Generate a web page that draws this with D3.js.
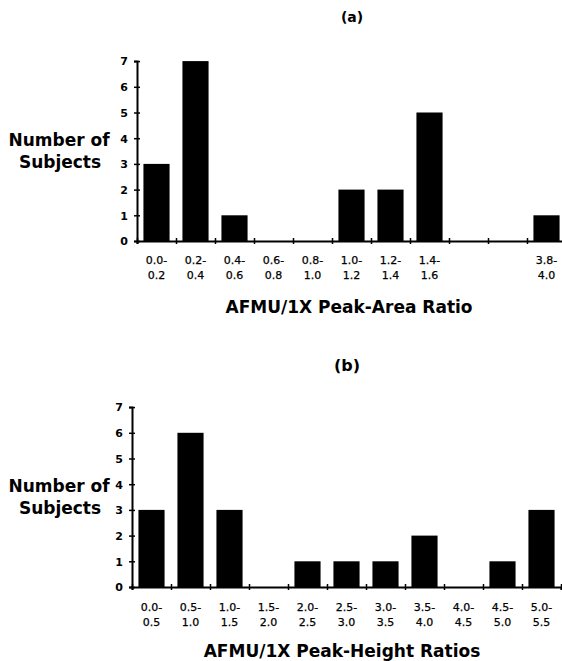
<!DOCTYPE html>
<html>
<head>
<meta charset="utf-8">
<script src="https://cdn.jsdelivr.net/npm/d3@7"></script>
<style>
  body { margin: 0; background: #fff; }
  svg { display: block; }
  .tick-lab { font-family: "DejaVu Sans", sans-serif; font-size: 11px; fill: #000; stroke: #000; stroke-width: 0.25px; }
  .ylab { font-family: "DejaVu Sans", sans-serif; font-weight: bold; font-size: 11px; fill: #000; }
  .title { font-family: "DejaVu Sans", sans-serif; font-weight: bold; font-size: 17px; fill: #000; }
</style>
</head>
<body>
<div id="chart"></div>
<script>
// y scale ticks shared by both panels
const yTicks = [0, 1, 2, 3, 4, 5, 6, 7];

// (a) peak-area ratio bins; two unlabeled slots before 3.8-4.0
const areaBins = ["0.0-0.2", "0.2-0.4", "0.4-0.6", "0.6-0.8", "0.8-1.0", "1.0-1.2",
  "1.2-1.4", "1.4-1.6", "", "", "3.8-4.0"];
const areaCounts = [3, 7, 1, 0, 0, 2, 2, 5, null, null, 1];

// (b) peak-height ratio bins
const heightBins = ["0.0-0.5", "0.5-1.0", "1.0-1.5", "1.5-2.0", "2.0-2.5", "2.5-3.0",
  "3.0-3.5", "3.5-4.0", "4.0-4.5", "4.5-5.0", "5.0-5.5"];
const heightCounts = [3, 6, 3, 0, 1, 1, 1, 2, 0, 1, 3];

const width = 562, height = 661;

const svg = d3.select("#chart").append("svg")
  .attr("width", width)
  .attr("height", height);

function drawPanel(p) {
  const n = p.bins.length;
  const x = d3.scaleBand()
    .domain(d3.range(n))
    .range([p.x0, p.x0 + n * p.step])
    .paddingInner(0.33)
    .paddingOuter(0.165);
  const edges = d3.scaleLinear().domain([0, n]).range([p.x0, p.x0 + n * p.step]);
  const y = d3.scaleLinear().domain([0, 7]).range([p.y0, p.y0 - 7 * p.unit]);

  const g = svg.append("g");

  // bars
  g.append("g")
    .selectAll("rect")
    .data(p.counts.map((v, i) => ({ i, v })).filter(d => d.v != null && d.v > 0))
    .join("rect")
    .attr("x", d => x(d.i))
    .attr("width", x.bandwidth())
    .attr("y", d => y(d.v))
    .attr("height", d => y(0) - y(d.v))
    .attr("fill", "#000");

  // y axis
  const yAxis = g.append("g")
    .attr("transform", `translate(${p.x0},0)`)
    .call(d3.axisLeft(y).tickValues(yTicks).tickSizeOuter(0).tickSize(3).tickFormat(d3.format("d")));
  yAxis.select(".domain").attr("stroke-width", 2);
  yAxis.selectAll(".tick line").attr("x1", -3).attr("x2", 3).attr("stroke-width", 1.5);
  yAxis.selectAll(".tick text").attr("class", "ylab").attr("x", -9).attr("dy", "0.35em");

  // x axis line with boundary ticks
  const xAxis = g.append("g")
    .attr("transform", `translate(0,${p.y0})`)
    .call(d3.axisBottom(edges).tickValues(d3.range(n + 1)).tickSizeOuter(0).tickSize(3).tickFormat(""));
  xAxis.select(".domain").attr("stroke-width", 2);
  xAxis.selectAll(".tick line").attr("y1", -3).attr("y2", 3).attr("stroke-width", 1.5);

  // category labels, split over two lines
  const labAxis = g.append("g")
    .attr("transform", `translate(0,${p.y0})`)
    .call(d3.axisBottom(x).tickSize(0).tickFormat(""));
  labAxis.select(".domain").remove();
  labAxis.selectAll(".tick text").each(function (i) {
    const bin = p.bins[i];
    if (!bin) return;
    const parts = bin.split("-");
    d3.select(this)
      .attr("class", "tick-lab")
      .attr("y", p.labY)
      .attr("dy", 0)
      .selectAll("tspan")
      .data([parts[0] + "-", parts[1]])
      .join("tspan")
      .attr("x", 0)
      .attr("dy", (d, k) => k ? 15 : 0)
      .text(d => d);
  });

  // y title
  const yt = g.append("text").attr("class", "title").attr("text-anchor", "middle");
  yt.append("tspan").attr("x", 59).attr("y", y(4) + 8).text("Number of");
  yt.append("tspan").attr("x", 60).attr("y", y(4) + 30).text("Subjects");

  // x title
  g.append("text").attr("class", "title").attr("text-anchor", "middle")
    .attr("x", p.titleX).attr("y", p.titleY).text(p.xTitle);

  // panel letter
  g.append("text").attr("class", "title").attr("text-anchor", "middle")
    .style("font-size", p.letterSize + "px")
    .attr("x", p.letterX).attr("y", p.letterY).text(p.letter);
}

drawPanel({
  bins: areaBins, counts: areaCounts,
  x0: 137, step: 39, y0: 241, unit: 25.7, labY: 23,
  xTitle: "AFMU/1X Peak-Area Ratio", titleX: 349, titleY: 313,
  letter: "(a)", letterX: 352, letterY: 22, letterSize: 14
});

drawPanel({
  bins: heightBins, counts: heightCounts,
  x0: 132, step: 39, y0: 587, unit: 25.7, labY: 24,
  xTitle: "AFMU/1X Peak-Height Ratios", titleX: 342, titleY: 657,
  letter: "(b)", letterX: 347, letterY: 371, letterSize: 16
});
</script>
</body>
</html>
